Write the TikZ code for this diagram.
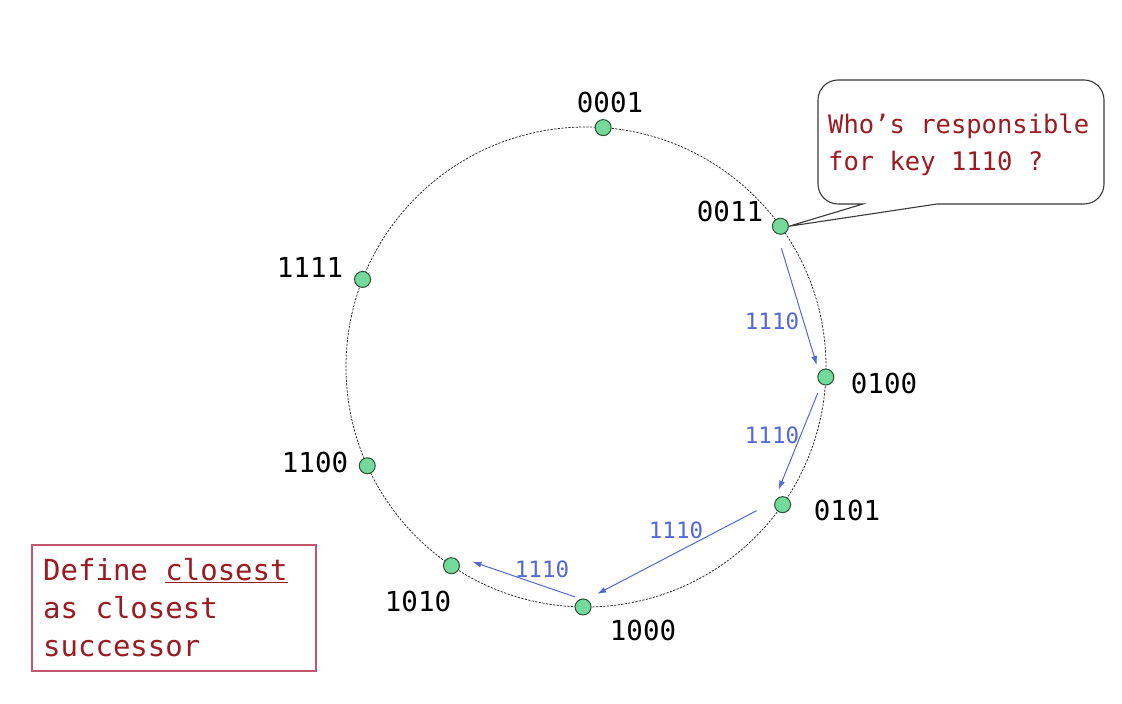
\documentclass[tikz,border=0pt]{standalone}
\usepackage{fontspec}
\setmonofont{DejaVu Sans Mono}
\usetikzlibrary{arrows.meta,calc}
\definecolor{keyred}{HTML}{9A1C22}
\definecolor{boxred}{HTML}{C2566A}
\definecolor{hopblue}{HTML}{5468D8}
\definecolor{peergreen}{HTML}{74DA9C}
\definecolor{peerline}{HTML}{2E4F36}
\definecolor{bubbleline}{HTML}{3A3A3A}
\begin{document}
\begin{tikzpicture}[x=1pt,y=1pt,
  ring/.style={draw=black!85,line width=0.75pt,dash pattern=on 2.2pt off 1.4pt},
  peer/.style={circle,draw=peerline,fill=peergreen,line width=1pt,minimum size=16pt,inner sep=0pt},
  lab/.style={font=\ttfamily\fontsize{27.5}{31}\selectfont,text=black,inner sep=0pt},
  hop/.style={draw=hopblue,line width=1pt,-{Latex[length=9pt,width=6pt]}},
  hoplab/.style={font=\ttfamily\fontsize{22.5}{26}\selectfont,text=hopblue,inner sep=0pt},
  bubble/.style={draw=bubbleline,line width=1.1pt,fill=white},
  notebox/.style={draw=boxred,line width=1.1pt,minimum width=284pt,minimum height=126pt,inner sep=0pt},
  notetext/.style={align=left,text=keyred,font=\ttfamily\fontsize{29}{38}\selectfont,inner sep=0pt},
  asktext/.style={align=left,text=keyred,font=\ttfamily\fontsize{25.5}{37}\selectfont,inner sep=0pt}
]
\useasboundingbox (0,0) rectangle (1122,704);
\fill[white] (0,0) rectangle (1122,704);
\coordinate (c) at (586,337);
\draw[ring] (c) circle (240);

\node[peer] (n0001) at ($(c)+(85.9:240)$) {};
\node[peer] (n0011) at ($(c)+(35.9:240)$) {};
\node[peer] (n0100) at ($(c)+(-2.4:240)$) {};
\node[peer] (n0101) at ($(c)+(-35.0:240)$) {};
\node[peer] (n1000) at ($(c)+(-90.7:240)$) {};
\node[peer] (n1010) at ($(c)+(235.9:240)$) {};
\node[peer] (n1100) at ($(c)+(204.3:240)$) {};
\node[peer] (n1111) at ($(c)+(158.6:240)$) {};

\node[lab] (l0001) at (610,602) {0001};
\node[lab] (l0011) at (730,493) {0011};
\node[lab] (l0100) at (884,321) {0100};
\node[lab] (l0101) at (847,194) {0101};
\node[lab] (l1000) at (643,74) {1000};
\node[lab] (l1010) at (418,103) {1010};
\node[lab] (l1100) at (315,242) {1100};
\node[lab] (l1111) at (310,437) {1111};

\draw[hop] ([shift={(1,-22)}]n0011.center) -- ([shift={(-9,12)}]n0100.center);
\draw[hop] ([shift={(-8,-16)}]n0100.center) -- ([shift={(-4,15)}]n0101.center);
\draw[hop] ([shift={(-26,-6)}]n0101.center) -- ([shift={(14,13)}]n1000.center);
\draw[hop] ([shift={(-8,10)}]n1000.center) -- ([shift={(21,4)}]n1010.center);
\node[hoplab] (h1) at (772,383) {1110};
\node[hoplab] (h2) at (772,269) {1110};
\node[hoplab] (h3) at (676,174) {1110};
\node[hoplab] (h4) at (542,135) {1110};

\draw[bubble] (863,500) -- (n0011.east) -- (937,500) -- (1084,500)
  arc[start angle=-90,end angle=0,radius=20] -- (1104,604)
  arc[start angle=0,end angle=90,radius=20] -- (838,624)
  arc[start angle=90,end angle=180,radius=20] -- (818,520)
  arc[start angle=180,end angle=270,radius=20] -- cycle;
\node[asktext,anchor=west] (ask) at (828,559) {Who’s responsible\\for key 1110 ?};

\node[notebox] (def) at (174,96) {};
\node[notetext,anchor=west] (deftext) at (43,96) {Define \underline{closest}\\as closest\\successor};
\end{tikzpicture}
\end{document}
